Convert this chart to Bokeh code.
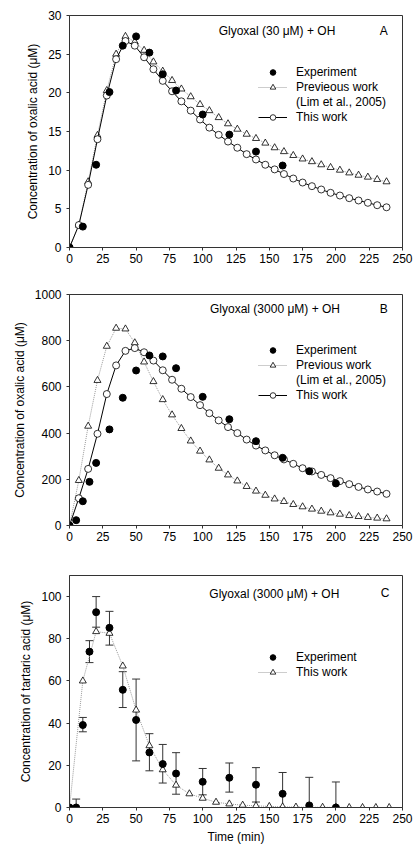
from bokeh.plotting import figure
from bokeh.models import (Range1d, FixedTicker, Label, Legend, LegendItem,
                          ColumnDataSource, Whisker, TeeHead)
from bokeh.layouts import column
from bokeh.embed import file_html
from bokeh.resources import INLINE

FONT = "Liberation Sans"
FS = "12px"
AX = "#333333"
DOT = "#9a9a9a"

# ---------------- data ----------------
x_ticks = [0, 25, 50, 75, 100, 125, 150, 175, 200, 225, 250]

t_model = [0, 7, 14, 21, 28, 35, 42, 49, 56, 63, 70, 77, 84, 91, 98, 105, 112,
           119, 126, 133, 140, 147, 154, 161, 168, 175, 182, 189, 196, 203,
           210, 217, 224, 231, 238]

# Panel A: glyoxal 30 uM
a_exp_t = [0, 10, 20, 30, 40, 50, 60, 70, 80, 100, 120, 140, 160]
a_exp = [0, 2.7, 10.7, 20.1, 26.1, 27.3, 25.2, 22.4, 20.3, 17.2, 14.6, 12.4, 10.6]
a_prev = [0, 2.9, 8.5, 14.5, 20.3, 25.0, 27.3, 26.6, 25.5, 24.0, 22.8, 21.6,
          20.5, 19.5, 18.5, 17.7, 16.8, 16.0, 15.3, 14.65, 14.1, 13.5, 12.9,
          12.4, 11.9, 11.45, 11.1, 10.7, 10.35, 10.0, 9.65, 9.35, 9.1, 8.8, 8.5]
a_this = [0, 2.9, 8.1, 14.0, 19.65, 24.35, 26.7, 26.1, 24.6, 23.05, 21.55,
          20.2, 18.9, 17.7, 16.55, 15.5, 14.57, 13.7, 12.9, 12.07, 11.38, 10.7,
          10.1, 9.5, 8.92, 8.4, 7.93, 7.5, 7.07, 6.72, 6.38, 6.08, 5.78, 5.47, 5.2]
a_yticks = [0, 5, 10, 15, 20, 25, 30]

# Panel B: glyoxal 3000 uM, oxalic acid
b_exp_t = [0, 5, 10, 15, 20, 30, 40, 50, 60, 70, 80, 100, 120, 140, 160, 180, 200]
b_exp = [0, 23, 105, 189, 271, 416, 553, 671, 736, 732, 681, 557, 460, 365,
         293, 235, 182]
b_prev = [0, 195, 430, 628, 776, 854, 851, 791, 708, 623, 545, 479, 420, 366,
          322, 284, 248, 219, 193, 169, 149, 131, 115, 104, 91, 81, 71, 62, 55,
          49, 43, 39, 35, 32, 29]
b_this = [0, 118, 245, 397, 569, 693, 756, 768, 750, 714, 672, 631, 592, 556,
          521, 486, 455, 426, 400, 372, 346, 325, 304, 286, 267, 248, 234, 219,
          205, 192, 179, 167, 156, 147, 137]
b_yticks = [0, 200, 400, 600, 800, 1000]

# Panel C: glyoxal 3000 uM, tartaric acid
c_model_t = [0, 10, 20, 30, 40, 50, 60, 70, 80, 90, 100, 110, 120, 130, 140,
             150, 160, 170, 180, 190, 200, 210, 220, 230, 240]
c_this = [0, 60, 83.4, 82.6, 67.1, 46.2, 29.3, 17.9, 10.6, 6.5, 4.4, 2.5, 1.7,
          1.1, 0.8, 0.5, 0.3, 0.2, 0.1, 0.1, 0.05, 0, 0, 0, 0]
c_exp_t = [0, 5, 10, 15, 20, 30, 40, 50, 60, 70, 80, 100, 120, 140, 160, 180, 200]
c_exp = [0, 0, 39.1, 73.9, 92.6, 85.2, 55.8, 41.5, 26.1, 20.6, 16.1, 12.2,
         14.1, 10.8, 6.5, 1.0, 0]
c_err_up = [0, 4.0, 42.7, 79.1, 100.0, 93.0, 64.4, 60.9, 35.0, 29.9, 26.0, 18.5,
            21.1, 18.9, 16.6, 14.3, 12.1]
c_err_lo = [0, 0, 35.9, 68.7, 85.5, 77.0, 47.4, 22.1, 17.4, 11.6, 6.3, 6.0,
            7.3, 2.6, 0, 0, 0]
c_yticks = [0, 20, 40, 60, 80, 100]


def make_fig(height, top, bottom, ymax, yticks, ylabel, xlabel=None):
    p = figure(width=414, height=height, output_backend="svg",
               toolbar_location=None,
               x_range=Range1d(0, 250), y_range=Range1d(0, ymax),
               min_border_left=69, min_border_right=12,
               min_border_top=top, min_border_bottom=bottom)
    p.xgrid.visible = False
    p.ygrid.visible = False
    p.outline_line_color = AX
    p.outline_line_width = 1
    p.background_fill_color = "white"
    p.border_fill_color = "white"
    for ax in (p.xaxis[0], p.yaxis[0]):
        ax.axis_line_color = AX
        ax.major_tick_line_color = AX
        ax.major_tick_in = 0
        ax.major_tick_out = 3
        ax.minor_tick_line_color = None
        ax.major_label_text_font = FONT
        ax.major_label_text_font_size = FS
        ax.major_label_text_color = "black"
        ax.axis_label_text_font = FONT
        ax.axis_label_text_font_size = FS
        ax.axis_label_text_font_style = "normal"
        ax.axis_label_text_color = "black"
    p.xaxis.ticker = FixedTicker(ticks=x_ticks)
    p.yaxis.ticker = FixedTicker(ticks=yticks)
    p.xaxis.major_label_standoff = 3
    p.yaxis.major_label_standoff = 5
    p.yaxis.axis_label = ylabel
    p.yaxis.axis_label_standoff = 5
    if xlabel:
        p.xaxis.axis_label = xlabel
        p.xaxis.axis_label_standoff = 4
    return p


def add_text(p, x, y, txt, align="left"):
    p.add_layout(Label(x=x, y=y, text=txt, text_font=FONT, text_font_size=FS,
                       text_color="black", text_align=align,
                       text_baseline="middle"))


def style_legend(items, loc):
    return Legend(items=items, location=loc, label_text_font=FONT,
                  label_text_font_size=FS, label_text_color="black",
                  glyph_width=29, glyph_height=14, label_height=14,
                  label_standoff=9, spacing=1, padding=0, margin=0,
                  border_line_alpha=0, background_fill_alpha=0)


def oxalic_panel(height, top, bottom, ymax, yticks, exp_t, exp, prev, this,
                 title, letter, tx, ty, lx, prev_label):
    p = make_fig(height, top, bottom, ymax, yticks,
                 "Concentration of oxalic acid (\u03bcM)")
    pl = p.line(t_model, prev, line_color=DOT, line_width=1, line_dash="1 1")
    ps = p.scatter(t_model, prev, marker="triangle", size=7,
                   fill_color="white", line_color="black", line_width=0.8)
    tl = p.line(t_model, this, line_color="black", line_width=1)
    ts = p.scatter(t_model, this, marker="circle", size=7,
                   fill_color="white", line_color="black", line_width=0.8)
    es = p.scatter(exp_t, exp, marker="circle", size=7,
                   fill_color="black", line_color="black")
    blank = p.scatter(x=[], y=[], alpha=0)
    add_text(p, tx, ty, title)
    add_text(p, lx, ty, letter, align="center")
    items = [LegendItem(label="Experiment", renderers=[es]),
             LegendItem(label=prev_label, renderers=[pl, ps]),
             LegendItem(label="(Lim et al., 2005)", renderers=[blank]),
             LegendItem(label="This work", renderers=[tl, ts])]
    p.add_layout(style_legend(items, (189, 123)), "center")
    return p


pA = oxalic_panel(280, 15, 33, 30, a_yticks, a_exp_t, a_exp, a_prev, a_this,
                  "Glyoxal (30 \u03bcM) + OH", "A", 112, 28.05, 236,
                  "Previeous work")
pB = oxalic_panel(280, 14, 35, 1000, b_yticks, b_exp_t, b_exp, b_prev, b_this,
                  "Glyoxal (3000 \u03bcM) + OH", "B", 105.5, 939, 236,
                  "Previous work")

# Panel C
pC = make_fig(293, 15, 46, 110, c_yticks,
              "Concentration of tartaric acid (\u03bcM)", "Time (min)")
full = [i for i in range(len(c_exp_t)) if c_err_lo[i] > 0]
part = [i for i in range(len(c_exp_t)) if c_err_lo[i] == 0 and c_err_up[i] > 0]
src_full = ColumnDataSource(dict(x=[c_exp_t[i] for i in full],
                                 up=[c_err_up[i] for i in full],
                                 lo=[c_err_lo[i] for i in full]))
src_part = ColumnDataSource(dict(x=[c_exp_t[i] for i in part],
                                 up=[c_err_up[i] for i in part],
                                 lo=[c_err_lo[i] for i in part]))
pC.add_layout(Whisker(source=src_full, base="x", upper="up", lower="lo",
                      line_color="#333333", line_width=1,
                      upper_head=TeeHead(size=8, line_color="#333333"),
                      lower_head=TeeHead(size=8, line_color="#333333")))
pC.add_layout(Whisker(source=src_part, base="x", upper="up", lower="lo",
                      line_color="#333333", line_width=1,
                      upper_head=TeeHead(size=8, line_color="#333333"),
                      lower_head=None))
cl = pC.line(c_model_t, c_this, line_color=DOT, line_width=1, line_dash="1 1")
cs = pC.scatter(c_model_t, c_this, marker="triangle", size=7,
                fill_color="white", line_color="black", line_width=0.8)
ce = pC.scatter(c_exp_t, c_exp, marker="circle", size=7,
                fill_color="black", line_color="black")
add_text(pC, 105, 101.3, "Glyoxal (3000 \u03bcM) + OH")
add_text(pC, 237, 101.9, "C", align="center")
pC.add_layout(style_legend([LegendItem(label="Experiment", renderers=[ce]),
                            LegendItem(label="This work", renderers=[cl, cs])],
                           (189, 128)), "center")

layout = column(pA, pB, pC, spacing=0)
open("out.html", "w").write(file_html(layout, INLINE))
